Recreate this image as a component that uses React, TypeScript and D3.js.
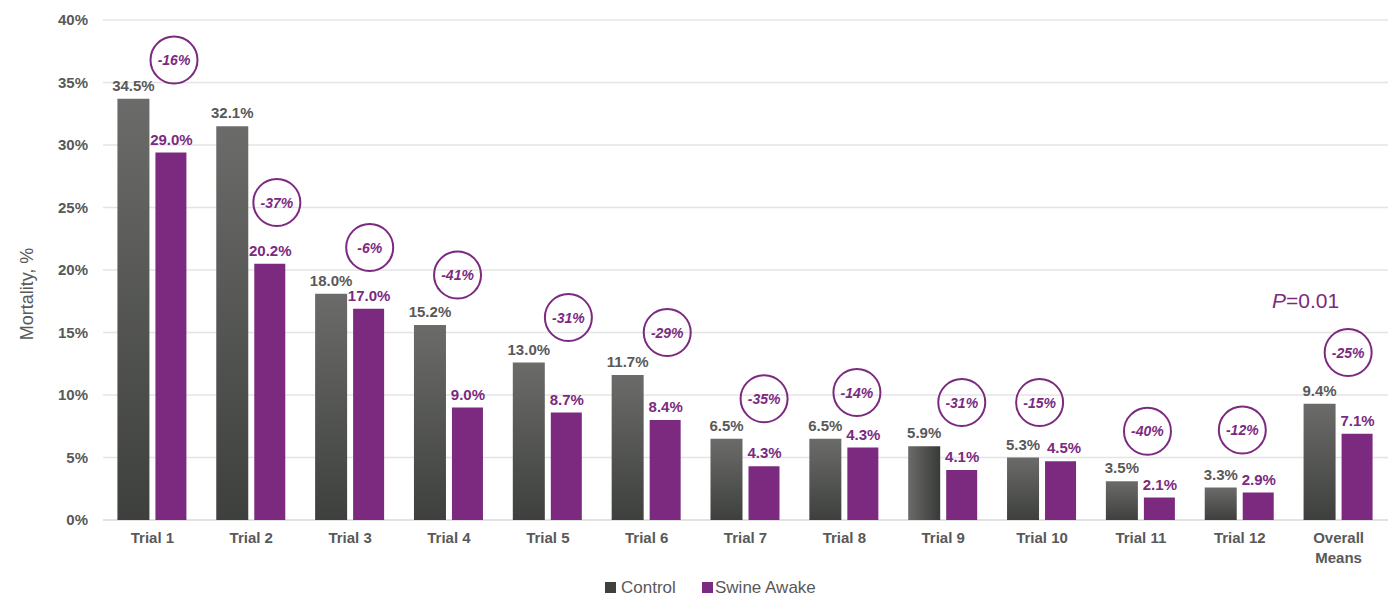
import React from 'react';
import * as d3 from 'd3';

// categories
const trials = ['Trial 1', 'Trial 2', 'Trial 3', 'Trial 4', 'Trial 5', 'Trial 6', 'Trial 7', 'Trial 8', 'Trial 9', 'Trial 10', 'Trial 11', 'Trial 12', 'Overall Means'];

// bar heights as drawn
const controlValues = [33.7, 31.5, 18.1, 15.6, 12.6, 11.6, 6.5, 6.5, 5.9, 5.0, 3.1, 2.6, 9.3];
const swineValues = [29.4, 20.5, 16.9, 9.0, 8.6, 8.0, 4.3, 5.8, 4.0, 4.7, 1.8, 2.2, 6.9];

// printed labels
const controlLabels = ['34.5%', '32.1%', '18.0%', '15.2%', '13.0%', '11.7%', '6.5%', '6.5%', '5.9%', '5.3%', '3.5%', '3.3%', '9.4%'];
const swineLabels = ['29.0%', '20.2%', '17.0%', '9.0%', '8.7%', '8.4%', '4.3%', '4.3%', '4.1%', '4.5%', '2.1%', '2.9%', '7.1%'];

// reduction bubbles: text and the level (in %) they sit at
const reductions = ['-16%', '-37%', '-6%', '-41%', '-31%', '-29%', '-35%', '-14%', '-31%', '-15%', '-40%', '-12%', '-25%'];
const reductionLevels = [36.8, 25.4, 21.8, 19.6, 16.2, 15.0, 9.7, 10.2, 9.4, 9.4, 7.1, 7.2, 13.4];
const reductionShift = [71, 75, 69, 58, 70, 70, 68, 62, 68, 47, 56, 52, 59];

const yTicks = [0, 5, 10, 15, 20, 25, 30, 35, 40];

const W = 1388;
const H = 598;
const PURPLE = '#7b2a7f';
const GRAY_TXT = '#595959';
const FONT = '"Liberation Sans", Arial, sans-serif';

export default function App() {
  const x = d3.scaleBand().domain(trials).range([103, 1388]).paddingInner(0).paddingOuter(0);
  const y = d3.scaleLinear().domain([0, 40]).range([520, 20]);
  const bw = x.bandwidth();
  const barW = 32;
  const gap = 6;
  const groupOff = (bw - (barW * 2 + gap)) / 2;

  return (
    <svg width={W} height={H} style={{ position: 'absolute', left: 0, top: 0, background: '#fff' }} fontFamily={FONT}>
      <defs>
        <linearGradient id="ctrlV" x1="0" y1="0" x2="0" y2="1">
          <stop offset="0" stopColor="#6b6c6a" />
          <stop offset="1" stopColor="#3e403d" />
        </linearGradient>
        <linearGradient id="ctrlH" x1="0" y1="0" x2="1" y2="0">
          <stop offset="0" stopColor="#6b6c6a" />
          <stop offset="1" stopColor="#383a37" />
        </linearGradient>
      </defs>

      {/* gridlines */}
      {yTicks.map(t => (
        <line key={t} x1={103} x2={1388} y1={y(t)} y2={y(t)} stroke={t === 0 ? '#d9d9d9' : '#e4e4e4'} strokeWidth={1.3} />
      ))}

      {/* y tick labels */}
      {yTicks.map(t => (
        <text key={'l' + t} x={88} y={y(t) + 5} textAnchor="end" fontSize={15} fontWeight="bold" fill={GRAY_TXT}>{t}%</text>
      ))}

      <text transform={`translate(33,294) rotate(-90)`} textAnchor="middle" fontSize={18} fill={GRAY_TXT}>Mortality, %</text>

      {/* bars */}
      {trials.map((t, i) => {
        const x0 = (x(t) ?? 0) + groupOff;
        const x1 = x0 + barW + gap;
        return (
          <g key={t}>
            <rect x={x0} y={y(controlValues[i])} width={barW} height={y(0) - y(controlValues[i])} fill={i === 8 ? 'url(#ctrlH)' : 'url(#ctrlV)'} />
            <rect x={x1} y={y(swineValues[i])} width={barW - 1} height={y(0) - y(swineValues[i])} fill={PURPLE} />
            <text x={x0 + barW / 2} y={y(controlValues[i]) - 8} textAnchor="middle" fontSize={15} fontWeight="bold" fill={GRAY_TXT}>{controlLabels[i]}</text>
            <text x={x1 + barW / 2 + (i === 9 ? 3 : 0)} y={y(swineValues[i]) - 8} textAnchor="middle" fontSize={15} fontWeight="bold" fill={PURPLE}>{swineLabels[i]}</text>
            <circle cx={(x(t) ?? 0) + reductionShift[i]} cy={y(reductionLevels[i])} r={23.5} fill="none" stroke={PURPLE} strokeWidth={2} />
            <text x={(x(t) ?? 0) + reductionShift[i]} y={y(reductionLevels[i]) + 5} textAnchor="middle" fontSize={14} fontWeight="bold" fontStyle="italic" fill={PURPLE}>{reductions[i]}</text>
          </g>
        );
      })}

      {/* x labels */}
      {trials.map(t => {
        const cx = (x(t) ?? 0) + bw / 2;
        const words = t === 'Overall Means' ? ['Overall', 'Means'] : [t];
        return (
          <text key={'x' + t} x={cx} y={543} textAnchor="middle" fontSize={15} fontWeight="bold" fill={GRAY_TXT}>
            {words.map((w, k) => (
              <tspan key={k} x={cx} dy={k === 0 ? 0 : 20}>{w}</tspan>
            ))}
          </text>
        );
      })}

      {/* P value */}
      <text x={1272} y={308} fontSize={21} fill={PURPLE}>
        <tspan fontStyle="italic">P</tspan>=0.01
      </text>

      {/* legend */}
      <rect x={605} y={582} width={11} height={11} fill="#3f413e" />
      <text x={621} y={593} fontSize={17} fill={GRAY_TXT}>Control</text>
      <rect x={702} y={582} width={11} height={11} fill={PURPLE} />
      <text x={715} y={593} fontSize={17} fill={GRAY_TXT}>Swine Awake</text>
    </svg>
  );
}
